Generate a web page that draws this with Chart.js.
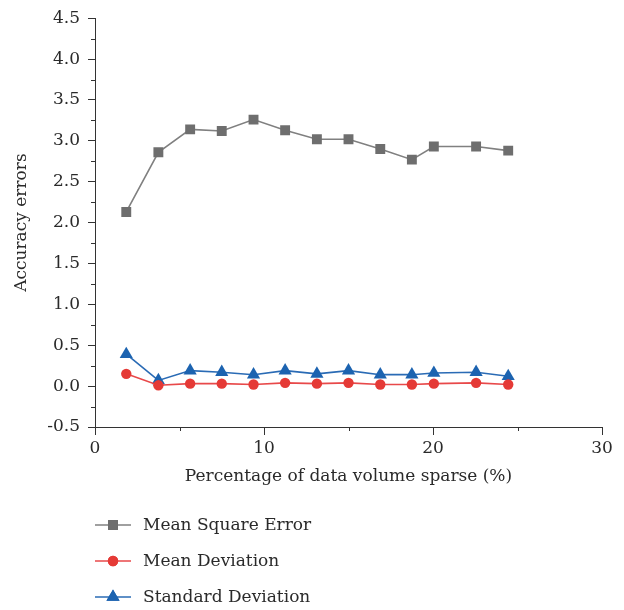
<!DOCTYPE html>
<html>
<head>
<meta charset="utf-8">
<script src="https://cdn.jsdelivr.net/npm/chart.js@4/dist/chart.umd.min.js"></script>
<style>
  html, body { margin: 0; padding: 0; background: #fff; }
  #wrap { width: 624px; height: 610px; position: relative; }
</style>
</head>
<body>
<div id="wrap"><canvas id="c" width="624" height="610"></canvas></div>
<script>
// ---- data ----
const xValues = [1.85, 3.75, 5.63, 7.5, 9.38, 11.25, 13.13, 15.0, 16.88, 18.75, 20.05, 22.55, 24.45];
const mseValues = [2.13, 2.86, 3.14, 3.12, 3.26, 3.13, 3.02, 3.02, 2.90, 2.77, 2.93, 2.93, 2.88];
const mdValues  = [0.15, 0.01, 0.03, 0.03, 0.02, 0.04, 0.03, 0.04, 0.02, 0.02, 0.03, 0.04, 0.02];
const sdValues  = [0.39, 0.07, 0.19, 0.17, 0.14, 0.19, 0.15, 0.19, 0.14, 0.14, 0.16, 0.17, 0.12];
const seriesNames = ["Mean Square Error", "Mean Deviation", "Standard Deviation"];
const xTitle = "Percentage of data volume sparse (%)";
const yTitle = "Accuracy errors";
const yMin = -0.5, yMax = 4.5, yMajor = 0.5;
const xMin = 0, xMax = 30, xMajor = 10, xMinor = 5;

const FONT = "'DejaVu Serif', 'Liberation Serif', serif";
const TEXT = '#2a2a2a';
const AXIS = '#333333';

function pts(ys) { return xValues.map((x, i) => ({x: x, y: ys[i]})); }

const styles = [
  {line: '#808080', fill: '#6e6e6e', style: 'rect', r: 7},
  {line: '#e8494a', fill: '#e53a36', style: 'circle', r: 5.2},
  {line: '#2a6bb5', fill: '#1c63b0', style: 'triangle', r: 7.6}
];
const series = [mseValues, mdValues, sdValues];

const datasets = series.map((s, i) => ({
  label: seriesNames[i],
  data: pts(s),
  borderColor: styles[i].line,
  backgroundColor: styles[i].fill,
  pointBackgroundColor: styles[i].fill,
  pointBorderColor: styles[i].fill,
  pointBorderWidth: 0,
  pointStyle: styles[i].style,
  pointRadius: styles[i].r,
  borderWidth: 1.6,
  tension: 0,
  fill: false
}));

const minorTicks = {
  id: 'minorTicks',
  afterDraw(chart) {
    const ctx = chart.ctx;
    const ys = chart.scales.y, xs = chart.scales.x;
    ctx.save();
    ctx.strokeStyle = AXIS;
    ctx.lineWidth = 1;
    ctx.beginPath();
    for (let v = yMin + yMajor / 2; v < yMax; v += yMajor) {
      const p = Math.round(ys.getPixelForValue(v)) + 0.5;
      ctx.moveTo(ys.right - 4, p); ctx.lineTo(ys.right, p);
    }
    for (let v = xMin + xMinor; v < xMax; v += xMajor) {
      const p = Math.round(xs.getPixelForValue(v)) + 0.5;
      ctx.moveTo(p, xs.top); ctx.lineTo(p, xs.top + 4);
    }
    ctx.stroke();
    ctx.restore();
  }
};

const lineLegend = {
  id: 'lineLegend',
  afterDraw(chart) {
    const ctx = chart.ctx;
    const area = chart.chartArea;
    ctx.save();
    chart.data.datasets.forEach((ds, i) => {
      const y = area.bottom + 98 + i * 36;
      ctx.strokeStyle = ds.borderColor;
      ctx.lineWidth = 1.6;
      ctx.beginPath();
      ctx.moveTo(95, y); ctx.lineTo(131, y);
      ctx.stroke();
      ctx.fillStyle = ds.pointBackgroundColor;
      Chart.helpers.drawPoint(ctx, {pointStyle: ds.pointStyle, radius: ds.pointRadius, rotation: 0, borderWidth: 0}, 113, y);
      ctx.fill();
      ctx.fillStyle = TEXT;
      ctx.font = "17px " + FONT;
      ctx.textBaseline = 'middle';
      ctx.textAlign = 'left';
      ctx.fillText(ds.label, 143, y + 1);
    });
    ctx.restore();
  }
};

new Chart(document.getElementById('c'), {
  type: 'line',
  data: { datasets: datasets },
  options: {
    responsive: false,
    animation: false,
    devicePixelRatio: 1,
    layout: { padding: { left: 0, right: 22, top: 16, bottom: 123 } },
    plugins: { legend: { display: false }, tooltip: { enabled: false } },
    scales: {
      x: {
        type: 'linear', min: xMin, max: xMax,
        afterFit(s) { s.height = 60; },
        border: { display: true, color: AXIS, width: 1 },
        grid: { drawOnChartArea: false, drawTicks: true, tickLength: 8, color: AXIS, tickColor: AXIS },
        ticks: { stepSize: xMajor, color: TEXT, padding: 3, font: { family: FONT, size: 17 }, maxRotation: 0 },
        title: { display: true, text: xTitle, color: TEXT, font: { family: FONT, size: 17 }, padding: { top: 0, bottom: 0 } }
      },
      y: {
        type: 'linear', min: yMin, max: yMax,
        afterFit(s) { s.width = 95; },
        border: { display: true, color: AXIS, width: 1 },
        grid: { drawOnChartArea: false, drawTicks: true, tickLength: 7, color: AXIS, tickColor: AXIS },
        ticks: { stepSize: yMajor, color: TEXT, padding: 8, font: { family: FONT, size: 17 },
                 callback: v => Number(v).toFixed(1) },
        title: { display: true, text: yTitle, color: TEXT, font: { family: FONT, size: 17 }, padding: { top: 11, bottom: 0 } }
      }
    }
  },
  plugins: [minorTicks, lineLegend]
});
</script>
</body>
</html>
